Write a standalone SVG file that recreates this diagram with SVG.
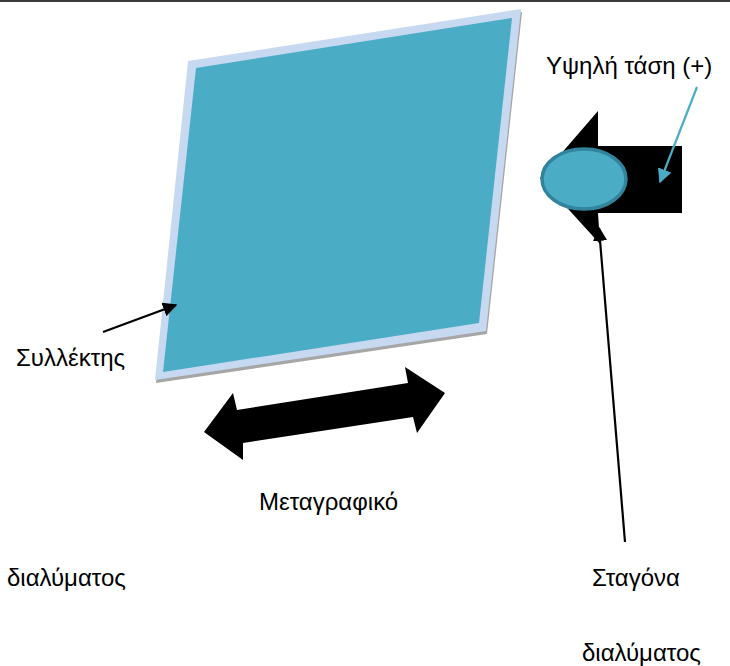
<svg xmlns="http://www.w3.org/2000/svg" width="730" height="666" viewBox="0 0 730 666">
<style>
.t{font-family:"Liberation Sans",Arial,sans-serif;font-size:24px;fill:#000}
.conn{fill:none;stroke-width:2.2}
</style>
<defs>
<marker id="ah" viewBox="0 0 10 10" refX="9" refY="5" markerWidth="6.5" markerHeight="6.5" orient="auto" markerUnits="strokeWidth"><path d="M0,0 L10,5 L0,10 z" fill="#000"/></marker>
<marker id="ahc" viewBox="0 0 10 10" refX="9" refY="5" markerWidth="6.5" markerHeight="6.5" orient="auto" markerUnits="strokeWidth"><path d="M0,0 L10,5 L0,10 z" fill="#4bacc6"/></marker>
</defs>
<rect width="730" height="666" fill="#fff"/>
<line x1="0" y1="1" x2="730" y2="1" stroke="#3a3a3a" stroke-width="2"/>
<g id="collector">
<polygon points="189,64 522,12 487,334 156,383" fill="#a6a6a6"/>
<polygon points="188,61 521,9 486,331 155,380" fill="#c6d9f0"/>
<polygon points="196,68 512,18 479,323 163,372" fill="#4bacc6"/>
</g>
<g id="double-arrow">
<polygon points="204,432 233,393 237,410 408,383 405,367 445,393 417,433 413,417 243,443 243,460" fill="#000"/>
</g>
<g id="left-arrow">
<polygon points="540,178 598,111 598,146 682,146 682,213 598,213 600,244" fill="#000"/>
</g>
<g id="drop">
<ellipse cx="584" cy="179" rx="42" ry="30" fill="#4bacc6" stroke="#31849b" stroke-width="3.5"/>
</g>
<g id="connectors">
<line class="conn" x1="103" y1="332" x2="176" y2="305" stroke="#000" marker-end="url(#ah)"/>
<line class="conn" x1="697" y1="87" x2="660" y2="182" stroke="#4bacc6" marker-end="url(#ahc)"/>
<line class="conn" x1="625" y1="542" x2="599" y2="228" stroke="#000" marker-end="url(#ah)"/>
</g>
<g id="labels">
<text class="t" x="546" y="74">Υψηλή τάση (+)</text>
<text class="t" x="16" y="366">Συλλέκτης</text>
<text class="t" x="259" y="510">Μεταγραφικό</text>
<text class="t" x="7" y="586">διαλύματος</text>
<text class="t" x="592" y="586">Σταγόνα</text>
<text class="t" x="582" y="661">διαλύματος</text>
</g>
</svg>
